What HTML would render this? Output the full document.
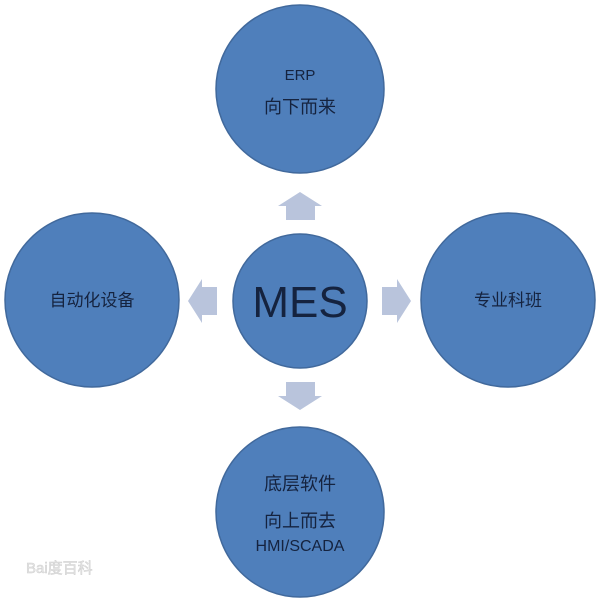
<!DOCTYPE html>
<html><head><meta charset="utf-8"><style>
html,body{margin:0;padding:0;background:#fff}
</style></head><body>
<svg width="600" height="603" viewBox="0 0 600 603" xmlns="http://www.w3.org/2000/svg" style="display:block">
<g fill="#4f7fbb" stroke="#41699c" stroke-width="1.5">
<ellipse cx="300" cy="89" rx="84" ry="84"/>
<ellipse cx="92" cy="300" rx="87" ry="87"/>
<ellipse cx="508" cy="300" rx="87" ry="87"/>
<ellipse cx="300" cy="512" rx="84" ry="85"/>
<ellipse cx="300" cy="301" rx="67" ry="67"/>
</g>
<g fill="#b9c4dc">
<polygon points="300,192 322,206 315,206 315,220 286,220 286,206 278,206"/>
<polygon points="300,410 322,396 315,396 315,382 286,382 286,396 278,396"/>
<polygon points="188,301 202,279 202,287 217,287 217,315 202,315 202,323"/>
<polygon points="411,301 397,279 397,287 382,287 382,315 397,315 397,323"/>
</g>
<g fill="#15233f" font-family="Liberation Sans, Noto Sans CJK SC, sans-serif" text-anchor="middle">
<text x="300" y="80" font-size="15">ERP</text>
<text x="300" y="113" font-size="18">向下而来</text>
<text x="92" y="306" font-size="17">自动化设备</text>
<text x="508" y="306" font-size="17">专业科班</text>
<text x="300" y="317" font-size="44">MES</text>
<text x="300" y="490" font-size="18">底层软件</text>
<text x="300" y="527" font-size="18">向上而去</text>
<text x="300" y="551" font-size="16">HMI/SCADA</text>
</g>
<text x="26" y="573" font-family="Liberation Sans, Noto Sans CJK SC, sans-serif" font-size="15" fill="#e6e6e6" stroke="#cfcfcf" stroke-width="0.5">Bai度百科</text>
</svg>
</body></html>
